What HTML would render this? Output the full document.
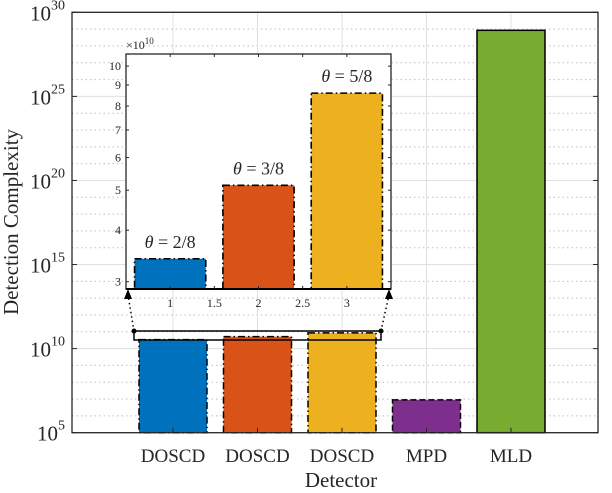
<!DOCTYPE html>
<html><head><meta charset="utf-8"><style>
body{margin:0;background:#fff}
svg text{font-family:"Liberation Serif",serif;fill:#262626}
</style></head><body>
<svg width="612" height="488" viewBox="0 0 612 488" xmlns="http://www.w3.org/2000/svg">
<g id="main"></g>
<g id="inset"></g>
</svg>
<script>
const categories=["DOSCD","DOSCD","DOSCD","MPD","MLD"];
const mainValues=[3.41e10,5.14e10,8.6e10,9e6,8.5e28];
const yTickExps=[5,10,15,20,25,30];
const insetValues=[3.41,5.14,8.6];
const insetLabels=["2/8","3/8","5/8"];
const insetYTicks=[3,4,5,6,7,8,9,10];
const insetXTicks=["1","1.5","2","2.5","3"];
const colors=["#0072BD","#D95319","#EDB120","#7E2F8E","#77AC30"];
const NS="http://www.w3.org/2000/svg";
function mk(p,t,a,txt){const e=document.createElementNS(NS,t);for(const k in a)e.setAttribute(k,a[k]);if(txt!==undefined)e.textContent=txt;p.appendChild(e);return e;}
const L=72,R=598,T=12.3,B=432.7;
const xs=v=>173+(v-1)*84.5;
const ys=v=>B-(Math.log10(v)-5)*(B-T)/25;
const g=document.getElementById('main');
for(let e=5;e<=30;e++){
  const y=ys(Math.pow(10,e));
  const l=mk(g,'line',{x1:L,x2:R,y1:y,y2:y,stroke:e%5?'#c0c0c0':'#e0e0e0','stroke-width':1,'stroke-dasharray':e%5?'1.5 3':'none'});
  
}
for(let i=1;i<=5;i++){
  const l=mk(g,'line',{x1:xs(i),x2:xs(i),y1:T,y2:B,stroke:'#e0e0e0','stroke-width':1});
  
}
mainValues.forEach((v,i)=>{
  const x=xs(i+1)-34,y=ys(v);
  const r=mk(g,'rect',{x:x,y:y,width:68,height:B-y,fill:colors[i],stroke:'#000','stroke-width':1.5,'stroke-dasharray':i<3?'7 3 1.5 3':(i==3?'6 3':'none')});
  
  const t=mk(g,'text',{x:xs(i+1),y:462,'text-anchor':'middle','font-size':19},categories[i]);
  
  mk(g,'line',{x1:xs(i+1),x2:xs(i+1),y1:B,y2:B-5,stroke:'#262626'});
});
const ax=mk(g,'rect',{x:L,y:T,width:R-L,height:B-T,fill:'none',stroke:'#262626','stroke-width':1.3});

yTickExps.forEach(e=>{
  const y=ys(Math.pow(10,e));
  const t=mk(g,'text',{x:65,y:y+8,'text-anchor':'end','font-size':21});
  
  mk(t,'tspan',{},'10');mk(t,'tspan',{dy:-11,'font-size':14},String(e));
  mk(g,'line',{x1:L,x2:L+5,y1:y,y2:y,stroke:'#262626'});
  mk(g,'line',{x1:R,x2:R-5,y1:y,y2:y,stroke:'#262626'});
});
const yl=mk(g,'text',{x:0,y:0,transform:'translate(18,222) rotate(-90)','text-anchor':'middle','font-size':21},'Detection Complexity');

const xl=mk(g,'text',{x:341,y:487,'text-anchor':'middle','font-size':21},'Detector');

const zb=mk(g,'rect',{x:134,y:331,width:247,height:9,fill:'none',stroke:'#000','stroke-width':1.5});

const gi=document.getElementById('inset');
const IL=126,IR=391,IT=54,IB=289;
const ixs=v=>IL+(v-0.5)*(IR-IL)/3;
const ylo=Math.log10(2.88),yhi=Math.log10(10.7);
const iys=v=>IB-(Math.log10(v)-ylo)/(yhi-ylo)*(IB-IT);
mk(gi,'rect',{x:IL,y:IT,width:IR-IL,height:IB-IT,fill:'#fff'});
[[134,331,IL+2,IB+6],[381,331,IR-2,IB+6]].forEach(c=>{
  const l=mk(gi,'line',{x1:c[0],y1:c[1],x2:c[2],y2:c[3],stroke:'#000','stroke-width':1.5,'stroke-dasharray':'1.5 3'});
  
  mk(gi,'circle',{cx:c[0],cy:c[1],r:2.5,fill:'#000'});
  mk(gi,'path',{d:`M${c[2]-4},${c[3]+4} L${c[2]},${c[3]-6} L${c[2]+4},${c[3]+4} Z`,fill:'#000'});
});
insetValues.forEach((v,i)=>{
  const x=ixs(i+1)-35.6,y=iys(v);
  const r=mk(gi,'rect',{x:x,y:y,width:71.2,height:IB-y,fill:colors[i],stroke:'#000','stroke-width':1.6,'stroke-dasharray':'7 3 1.5 3'});
  
  const t=mk(gi,'text',{x:ixs(i+1),y:y-11,'text-anchor':'middle','font-size':18});
  
  mk(t,'tspan',{'font-style':'italic'},'θ');mk(t,'tspan',{},' = '+insetLabels[i]);
});
const ia=mk(gi,'rect',{x:IL,y:IT,width:IR-IL,height:IB-IT,fill:'none',stroke:'#262626','stroke-width':1.3});

mk(gi,'line',{x1:IL,x2:IR,y1:IB,y2:IB,stroke:'#000','stroke-width':2});
insetYTicks.forEach(v=>{
  const y=iys(v);
  const t=mk(gi,'text',{x:IL-5,y:y+4,'text-anchor':'end','font-size':12},String(v));
  
  mk(gi,'line',{x1:IL,x2:IL+3,y1:y,y2:y,stroke:'#262626'});
  mk(gi,'line',{x1:IR,x2:IR-3,y1:y,y2:y,stroke:'#262626'});
});
insetXTicks.forEach(s=>{
  const v=parseFloat(s),x=ixs(v);
  const t=mk(gi,'text',{x:x,y:307,'text-anchor':'middle','font-size':12},s);
  
  mk(gi,'line',{x1:x,x2:x,y1:IB,y2:IB-3,stroke:'#262626'});
  mk(gi,'line',{x1:x,x2:x,y1:IT,y2:IT+3,stroke:'#262626'});
});
const ex=mk(gi,'text',{x:IL,y:IT-5,'font-size':12});

mk(ex,'tspan',{},'×10');mk(ex,'tspan',{dy:-5,'font-size':9},'10');
</script>
</body></html>
